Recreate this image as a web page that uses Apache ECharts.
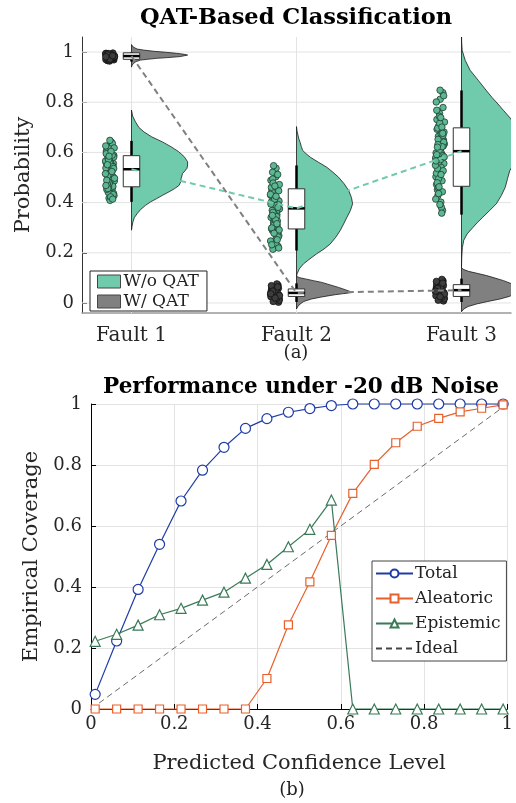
<!DOCTYPE html>
<html>
<head>
<meta charset="utf-8">
<script src="https://cdn.jsdelivr.net/npm/echarts@6/dist/echarts.min.js"></script>
<style>
html, body { margin: 0; padding: 0; background: #fff; }
#main { width: 516px; height: 803px; }
</style>
</head>
<body>
<div id="main"></div>
<script>
// ---------- (a) QAT-based classification ----------
var faults = ['Fault 1', 'Fault 2', 'Fault 3'];
var faultPos = [1, 2, 3];
var probTicks = [0, 0.2, 0.4, 0.6, 0.8, 1];

// box stats [min, q1, median, q3, max]
var boxNoQat = [
    [0.403, 0.463, 0.533, 0.587, 0.646],
    [0.209, 0.295, 0.377, 0.455, 0.548],
    [0.352, 0.465, 0.605, 0.698, 0.847]
];
var boxQat = [
    [0.962, 0.971, 0.984, 0.997, 1.0],
    [0.004, 0.026, 0.040, 0.056, 0.078],
    [0.004, 0.026, 0.051, 0.073, 0.097]
];

// half violin outlines [y, relative width]
var violinF1NoQat = [[0.769,0],[0.745,0.02],[0.722,0.07],[0.70,0.13],[0.682,0.22],[0.662,0.36],[0.642,0.55],[0.622,0.71],[0.603,0.84],[0.583,0.94],[0.563,1.0],[0.55,1.0],[0.537,0.99],[0.526,0.95],[0.516,0.91],[0.496,0.885],[0.482,0.875],[0.469,0.85],[0.456,0.77],[0.443,0.67],[0.43,0.56],[0.416,0.45],[0.403,0.34],[0.389,0.25],[0.372,0.16],[0.356,0.1],[0.34,0.05],[0.323,0.025],[0.305,0.01],[0.29,0]];
var violinF2NoQat = [[0.703,0],[0.685,0.01],[0.67,0.025],[0.655,0.04],[0.64,0.065],[0.624,0.085],[0.608,0.11],[0.595,0.17],[0.581,0.245],[0.561,0.39],[0.541,0.54],[0.521,0.65],[0.501,0.75],[0.475,0.85],[0.448,0.93],[0.42,0.98],[0.395,1.0],[0.368,0.96],[0.342,0.9],[0.315,0.84],[0.289,0.78],[0.262,0.7],[0.235,0.6],[0.215,0.49],[0.196,0.36],[0.176,0.24],[0.156,0.125],[0.136,0.05],[0.116,0.01],[0.105,0]];
var violinF3NoQat = [[1.07,0],[1.04,0.003],[1.007,0.012],[0.967,0.066],[0.927,0.155],[0.887,0.3],[0.853,0.42],[0.82,0.54],[0.793,0.65],[0.767,0.75],[0.734,0.88],[0.7,0.95],[0.66,0.99],[0.6,1.0],[0.56,0.95],[0.527,0.86],[0.495,0.82],[0.461,0.78],[0.428,0.71],[0.395,0.62],[0.368,0.5],[0.342,0.38],[0.32,0.28],[0.3,0.2],[0.275,0.1],[0.25,0.04],[0.22,0.015],[0.18,0.004],[0.14,0]];
var violinF1Qat = [[1.03,0],[1.02,0.03],[1.012,0.1],[1.008,0.21],[1.003,0.4],[0.999,0.62],[0.995,0.8],[0.991,0.94],[0.988,1.0],[0.982,0.87],[0.978,0.65],[0.975,0.45],[0.971,0.28],[0.968,0.16],[0.962,0.08],[0.955,0.036],[0.948,0.012],[0.94,0]];
var violinF2Qat = [[0.106,0],[0.101,0.05],[0.096,0.155],[0.089,0.3],[0.082,0.45],[0.072,0.6],[0.062,0.75],[0.052,0.88],[0.042,1.0],[0.033,0.69],[0.024,0.45],[0.016,0.27],[0.006,0.13],[-0.004,0.065],[-0.014,0.025],[-0.024,0]];
var violinF3Qat = [[0.14,0],[0.133,0.04],[0.126,0.125],[0.118,0.28],[0.109,0.45],[0.099,0.6],[0.089,0.75],[0.076,0.9],[0.065,0.97],[0.055,1.0],[0.045,0.99],[0.035,0.95],[0.026,0.85],[0.016,0.69],[0.006,0.47],[-0.004,0.27],[-0.014,0.12],[-0.024,0.04],[-0.035,0]];

// sample points (probabilities) and their horizontal jitter
var jitter = [-0.131,-0.118,-0.149,-0.107,-0.140,-0.125,-0.154,-0.112,-0.136,-0.121,
    -0.146,-0.104,-0.129,-0.157,-0.115,-0.138,-0.124,-0.109,-0.151,-0.133,
    -0.119,-0.143,-0.106,-0.127,-0.155,-0.113,-0.137,-0.148,-0.122,-0.110,
    -0.134,-0.152,-0.117,-0.141,-0.126,-0.103,-0.145,-0.130,-0.114,-0.156,
    -0.123,-0.139,-0.108,-0.150,-0.128,-0.116,-0.144,-0.135,-0.111,-0.153,
    -0.120,-0.142,-0.105,-0.132,-0.147,-0.117,-0.158,-0.126,-0.139,-0.112,
    -0.150,-0.124,-0.108,-0.143,-0.131,-0.119,-0.155,-0.136,-0.114,-0.146];
var pointsF1NoQat = [0.612,0.534,0.471,0.588,0.447,0.622,0.559,0.503,0.418,0.575,
    0.541,0.486,0.631,0.566,0.459,0.598,0.522,0.437,0.607,0.549,
    0.493,0.579,0.428,0.616,0.538,0.465,0.584,0.512,0.641,0.556,
    0.478,0.602,0.527,0.441,0.569,0.497,0.593,0.409,0.546,0.626,
    0.518,0.462,0.581,0.453,0.553,0.636,0.507,0.573,0.432,0.595,
    0.529,0.484,0.618,0.562,0.474,0.589,0.515,0.423,0.571,0.543,
    0.489,0.604,0.536,0.456,0.648,0.524,0.468,0.585,0.414,0.551];
var pointsF2NoQat = [0.384,0.312,0.451,0.268,0.397,0.503,0.341,0.226,0.421,0.366,
    0.289,0.472,0.358,0.247,0.411,0.324,0.537,0.379,0.296,0.438,
    0.352,0.214,0.406,0.274,0.489,0.371,0.318,0.443,0.258,0.392,
    0.336,0.461,0.303,0.417,0.238,0.375,0.521,0.347,0.282,0.429,
    0.363,0.309,0.447,0.232,0.388,0.327,0.494,0.356,0.263,0.402,
    0.344,0.478,0.291,0.414,0.369,0.252,0.433,0.331,0.547,0.381,
    0.299,0.425,0.219,0.361,0.466,0.316,0.394,0.278,0.512,0.349];
var pointsF3NoQat = [0.612,0.487,0.731,0.556,0.664,0.402,0.598,0.779,0.523,0.687,
    0.451,0.634,0.812,0.578,0.369,0.706,0.541,0.649,0.472,0.755,
    0.593,0.428,0.681,0.617,0.503,0.838,0.562,0.692,0.381,0.626,
    0.744,0.517,0.659,0.459,0.603,0.721,0.536,0.848,0.587,0.414,
    0.673,0.495,0.641,0.768,0.571,0.443,0.697,0.609,0.527,0.801,
    0.358,0.652,0.582,0.716,0.479,0.623,0.549,0.739,0.436,0.668,
    0.591,0.512,0.826,0.631,0.392,0.701,0.566,0.463,0.676,0.621];
var pointsF1Qat = [0.984,0.976,0.991,0.969,0.987,0.979,0.995,0.973,0.982,0.988,
    0.966,0.985,0.977,0.993,0.981,0.971,0.989,0.975,0.986,0.964,
    0.983,0.992,0.978,0.987,0.970,0.996,0.980,0.974,0.990,0.984,
    0.968,0.986,0.979,0.994,0.976,0.982,0.989,0.972,0.985,0.981];
var pointsF2Qat = [0.041,0.018,0.063,0.032,0.052,0.009,0.045,0.071,0.027,0.038,
    0.057,0.014,0.048,0.035,0.066,0.022,0.043,0.003,0.054,0.030,
    0.076,0.039,0.011,0.050,0.025,0.061,0.036,0.046,0.016,0.058,
    0.033,0.069,0.042,0.006,0.053,0.029,0.047,0.020,0.064,0.037];
var pointsF3Qat = [0.052,0.027,0.078,0.041,0.063,0.013,0.056,0.088,0.034,0.049,
    0.071,0.019,0.059,0.045,0.083,0.031,0.053,0.008,0.067,0.038,
    0.094,0.048,0.016,0.061,0.029,0.075,0.044,0.057,0.022,0.069,
    0.042,0.086,0.051,0.011,0.065,0.036,0.058,0.025,0.079,0.047];

// ---------- (b) coverage under -20 dB noise ----------
var confLevels = [0.01,0.0616,0.1132,0.1647,0.2163,0.2679,0.3195,0.3711,0.4226,0.4742,
    0.5258,0.5774,0.6289,0.6805,0.7321,0.7837,0.8353,0.8868,0.9384,0.99];
var totalCov = [0.048,0.223,0.392,0.54,0.682,0.783,0.858,0.92,0.952,0.973,
    0.985,0.995,1,1,1,1,1,1,1,1];
var aleatoricCov = [0,0,0,0,0,0,0,0,0.1,0.276,
    0.417,0.569,0.707,0.802,0.873,0.927,0.953,0.974,0.986,0.997];
var epistemicCov = [0.222,0.245,0.275,0.309,0.33,0.357,0.383,0.429,0.474,0.532,
    0.589,0.685,0,0,0,0,0,0,0,0];
var idealLine = [[0, 0], [1, 1]];

var SERIF = '"DejaVu Serif", serif';
var TEAL = '#70cbac';
var GRAY = '#808080';
var GRID_COLOR = '#e3e3e3';
var VIOLIN_W = 0.34;
var BOX_W = 0.05;

function pair(xs, ys) {
    return xs.map(function (x, i) { return [x, ys[i]]; });
}

function scatterData(pos, ys) {
    return ys.map(function (y, i) { return [pos + jitter[i], y]; });
}

function tickFmt(v) {
    return (v === 0 || v === 1) ? String(v) : v.toFixed(1);
}

function violinRender(profiles, color) {
    return function (params, api) {
        var xc = api.value(0);
        var prof = profiles[params.dataIndex];
        var pts = [api.coord([xc, prof[0][0]])];
        for (var k = 0; k < prof.length; k++) {
            pts.push(api.coord([xc + prof[k][1] * VIOLIN_W, prof[k][0]]));
        }
        pts.push(api.coord([xc, prof[prof.length - 1][0]]));
        return {
            type: 'polygon',
            shape: { points: pts },
            style: { fill: color, stroke: '#1a1a1a', lineWidth: 0.8 }
        };
    };
}

function boxRender(stats) {
    return function (params, api) {
        var xc = api.value(0);
        var s = stats[params.dataIndex];
        var top = api.coord([xc, s[4]]);
        var bot = api.coord([xc, s[0]]);
        var tl = api.coord([xc - BOX_W, s[3]]);
        var br = api.coord([xc + BOX_W, s[1]]);
        var ml = api.coord([xc - BOX_W, s[2]]);
        var mr = api.coord([xc + BOX_W, s[2]]);
        return {
            type: 'group',
            children: [
                { type: 'line', shape: { x1: top[0], y1: top[1], x2: bot[0], y2: bot[1] }, style: { stroke: '#000', lineWidth: 2.5 } },
                { type: 'rect', shape: { x: tl[0], y: tl[1], width: br[0] - tl[0], height: br[1] - tl[1] }, style: { fill: '#fff', stroke: '#333', lineWidth: 1 } },
                { type: 'line', shape: { x1: ml[0], y1: ml[1], x2: mr[0], y2: mr[1] }, style: { stroke: '#000', lineWidth: 2.5 } }
            ]
        };
    };
}

// grid lines of panel (a)
function vGridRender(params, api) {
    var cs = params.coordSys;
    var p = api.coord([api.value(0), api.value(1)]);
    return { type: 'line', shape: { x1: p[0], y1: cs.y, x2: p[0], y2: cs.y + cs.height }, style: { stroke: GRID_COLOR, lineWidth: 1 } };
}
function hGridRender(params, api) {
    var cs = params.coordSys;
    var p = api.coord([api.value(0), api.value(1)]);
    return { type: 'line', shape: { x1: cs.x, y1: p[1], x2: cs.x + cs.width, y2: p[1] }, style: { stroke: GRID_COLOR, lineWidth: 1 } };
}

var chart = echarts.init(document.getElementById('main'));

var medNoQat = boxNoQat.map(function (b, i) { return [faultPos[i], b[2]]; });
var medQat = boxQat.map(function (b, i) { return [faultPos[i], b[2]]; });

var noQatPoints = scatterData(1, pointsF1NoQat).concat(scatterData(2, pointsF2NoQat), scatterData(3, pointsF3NoQat));
var qatPoints = scatterData(1, pointsF1Qat).concat(scatterData(2, pointsF2Qat), scatterData(3, pointsF3Qat));

chart.setOption({
    backgroundColor: '#fff',
    animation: false,
    textStyle: { fontFamily: SERIF },
    grid: [
        { left: 82, right: 5, top: 37, bottom: 490 },
        { left: 91, right: 5, top: 404, bottom: 94 }
    ],
    xAxis: [
        {
            gridIndex: 0, type: 'value', min: 0.7, max: 3.3,
            axisLine: { onZero: false, lineStyle: { color: '#999', width: 1.5 } },
            axisTick: { show: false },
            splitLine: { show: false },
            axisLabel: {
                customValues: faultPos, margin: 13,
                fontSize: 20, fontFamily: SERIF, color: '#262626',
                formatter: function (v) { return faults[Math.round(v) - 1]; }
            }
        },
        {
            gridIndex: 1, type: 'value', min: 0, max: 1, interval: 0.2,
            name: 'Predicted Confidence Level', nameLocation: 'middle', nameGap: 44,
            nameTextStyle: { fontSize: 21, fontFamily: SERIF, color: '#262626' },
            axisLine: { onZero: false, lineStyle: { color: '#000', width: 1 } },
            axisTick: { inside: true, length: 5, lineStyle: { color: '#000' } },
            splitLine: { show: true, lineStyle: { color: GRID_COLOR } },
            axisLabel: { margin: 6, fontSize: 18, fontFamily: SERIF, color: '#262626', formatter: tickFmt }
        }
    ],
    yAxis: [
        {
            gridIndex: 0, type: 'value', min: -0.04, max: 1.06,
            name: 'Probability', nameLocation: 'middle', nameGap: 41,
            nameTextStyle: { fontSize: 21, fontFamily: SERIF, color: '#262626' },
            axisLine: { show: true, onZero: false, lineStyle: { color: '#333', width: 1 } },
            axisTick: { show: true, inside: true, length: 5, customValues: probTicks, lineStyle: { color: '#333' } },
            splitLine: { show: false },
            axisLabel: { customValues: probTicks, margin: 8, fontSize: 18, fontFamily: SERIF, color: '#262626', formatter: tickFmt }
        },
        {
            gridIndex: 1, type: 'value', min: 0, max: 1, interval: 0.2,
            name: 'Empirical Coverage', nameLocation: 'middle', nameGap: 41,
            nameTextStyle: { fontSize: 21, fontFamily: SERIF, color: '#262626' },
            axisLine: { show: true, onZero: false, lineStyle: { color: '#000', width: 1 } },
            axisTick: { show: true, inside: true, length: 5, lineStyle: { color: '#000' } },
            splitLine: { show: true, lineStyle: { color: GRID_COLOR } },
            axisLabel: { margin: 9, fontSize: 18, fontFamily: SERIF, color: '#262626', formatter: tickFmt }
        }
    ],
    legend: [
        {
            data: ['W/o QAT', 'W/ QAT'],
            orient: 'vertical', left: 90, top: 271,
            icon: 'rect', itemWidth: 23, itemHeight: 13, itemGap: 3,
            padding: [2, 8, 1, 7],
            backgroundColor: '#fff', borderColor: '#222', borderWidth: 1, borderRadius: 0,
            itemStyle: { borderColor: '#444', borderWidth: 1 },
            textStyle: { fontSize: 17, lineHeight: 16, fontFamily: SERIF, color: '#222', padding: [0, 0, 0, -2] },
            selectedMode: false
        },
        {
            data: ['Total', 'Aleatoric', 'Epistemic', { name: 'Ideal', itemStyle: { opacity: 0 } }],
            orient: 'vertical', left: 372, top: 561,
            itemWidth: 37, itemHeight: 10, itemGap: 8,
            padding: [4, 6, 4, 3],
            backgroundColor: '#fff', borderColor: '#444', borderWidth: 1, borderRadius: 0,
            textStyle: { fontSize: 17, lineHeight: 17, fontFamily: SERIF, color: '#222', padding: [0, 0, 0, -3] },
            selectedMode: false
        }
    ],
    graphic: [
        { type: 'text', x: 296, y: 18, style: { text: 'QAT-Based Classification', font: 'bold 22.5px "DejaVu Serif"', fill: '#000', align: 'center', verticalAlign: 'middle' } },
        { type: 'text', x: 296, y: 353, style: { text: '(a)', font: '18px "DejaVu Serif"', fill: '#222', align: 'center', verticalAlign: 'middle' } },
        { type: 'text', x: 301, y: 387, style: { text: 'Performance under -20 dB Noise', font: 'bold 21.5px "DejaVu Serif"', fill: '#000', align: 'center', verticalAlign: 'middle' } },
        { type: 'text', x: 292, y: 790, style: { text: '(b)', font: '18px "DejaVu Serif"', fill: '#222', align: 'center', verticalAlign: 'middle' } }
    ],
    series: [
        {
            name: 'vgrid', type: 'custom', xAxisIndex: 0, yAxisIndex: 0, silent: true,
            renderItem: vGridRender,
            data: faultPos.map(function (p) { return [p, 0]; }), encode: { x: 0, y: 1 }
        },
        {
            name: 'hgrid', type: 'custom', xAxisIndex: 0, yAxisIndex: 0, silent: true,
            renderItem: hGridRender,
            data: probTicks.map(function (v) { return [1, v]; }), encode: { x: 0, y: 1 }
        },
        {
            name: 'median W/o', type: 'line', xAxisIndex: 0, yAxisIndex: 0,
            data: medNoQat, symbol: 'none', silent: true,
            lineStyle: { color: TEAL, width: 2, type: [6, 4] }
        },
        {
            name: 'median W/', type: 'line', xAxisIndex: 0, yAxisIndex: 0,
            data: medQat, symbol: 'none', silent: true,
            lineStyle: { color: GRAY, width: 2, type: [6, 4] }
        },
        {
            name: 'W/o QAT', type: 'custom', xAxisIndex: 0, yAxisIndex: 0, clip: true,
            itemStyle: { color: TEAL },
            renderItem: violinRender([violinF1NoQat, violinF2NoQat, violinF3NoQat], TEAL),
            data: medNoQat, encode: { x: 0, y: 1 }
        },
        {
            name: 'W/ QAT', type: 'custom', xAxisIndex: 0, yAxisIndex: 0, clip: true,
            itemStyle: { color: GRAY },
            renderItem: violinRender([violinF1Qat, violinF2Qat, violinF3Qat], GRAY),
            data: medQat, encode: { x: 0, y: 1 }
        },
        {
            name: 'box W/o', type: 'custom', xAxisIndex: 0, yAxisIndex: 0,
            renderItem: boxRender(boxNoQat), data: medNoQat, encode: { x: 0, y: 1 }
        },
        {
            name: 'box W/', type: 'custom', xAxisIndex: 0, yAxisIndex: 0,
            renderItem: boxRender(boxQat), data: medQat, encode: { x: 0, y: 1 }
        },
        {
            name: 'pts W/o', type: 'scatter', xAxisIndex: 0, yAxisIndex: 0,
            data: noQatPoints, symbolSize: 6.5, silent: true,
            itemStyle: { color: '#5cb893', borderColor: '#1e3b30', borderWidth: 0.8, opacity: 1 }
        },
        {
            name: 'pts W/', type: 'scatter', xAxisIndex: 0, yAxisIndex: 0,
            data: qatPoints, symbolSize: 6.5, silent: true,
            itemStyle: { color: '#3d3d3d', borderColor: '#111', borderWidth: 0.8, opacity: 1 }
        },
        {
            name: 'Ideal', type: 'line', xAxisIndex: 1, yAxisIndex: 1,
            data: idealLine, symbol: 'none', silent: true,
            itemStyle: { color: '#444' },
            lineStyle: { color: '#444', width: 0.8, type: [6, 4] }
        },
        {
            name: 'Total', type: 'line', xAxisIndex: 1, yAxisIndex: 1, clip: false,
            data: pair(confLevels, totalCov),
            symbol: 'circle', symbolSize: 10,
            itemStyle: { color: '#fff', borderColor: '#1f3ca6', borderWidth: 1.2 },
            lineStyle: { color: '#1f3ca6', width: 1.2 }
        },
        {
            name: 'Aleatoric', type: 'line', xAxisIndex: 1, yAxisIndex: 1, clip: false,
            data: pair(confLevels, aleatoricCov),
            symbol: 'rect', symbolSize: 8,
            itemStyle: { color: '#fff', borderColor: '#e8602c', borderWidth: 1.2 },
            lineStyle: { color: '#e8602c', width: 1.2 }
        },
        {
            name: 'Epistemic', type: 'line', xAxisIndex: 1, yAxisIndex: 1, clip: false,
            data: pair(confLevels, epistemicCov),
            symbol: 'triangle', symbolSize: 10,
            itemStyle: { color: '#fff', borderColor: '#3a7a58', borderWidth: 1.2 },
            lineStyle: { color: '#3a7a58', width: 1.2 }
        }
    ]
});
</script>
</body>
</html>
